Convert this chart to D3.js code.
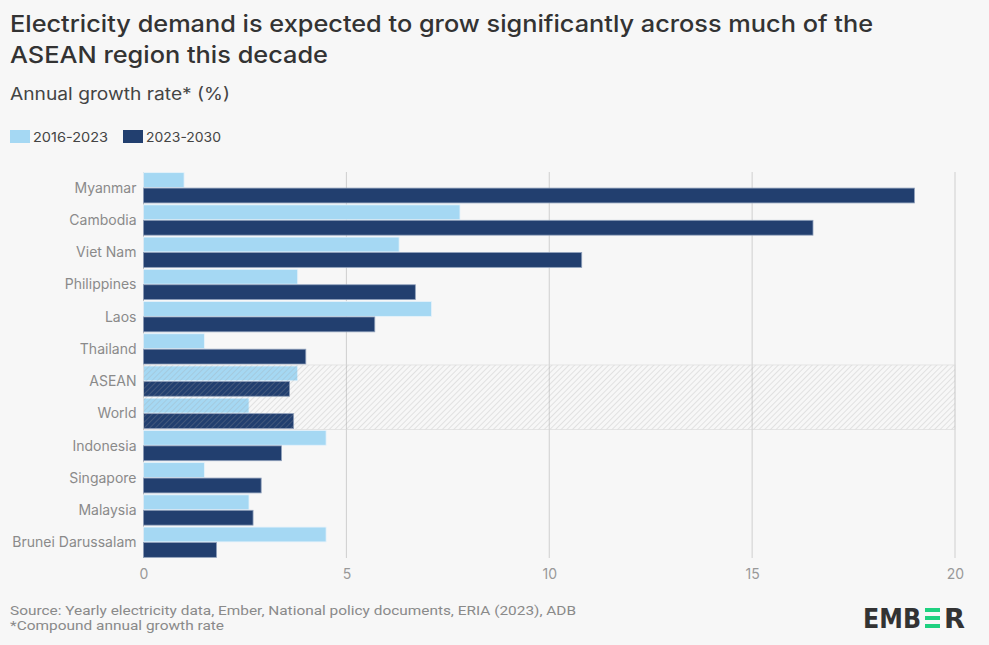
<!DOCTYPE html>
<html>
<head>
<meta charset="utf-8">
<script src="https://cdn.jsdelivr.net/npm/d3@7"></script>
<style>
body { margin: 0; background: #f7f7f7; }
svg { display: block; }
</style>
</head>
<body>
<div id="chart"></div>
<script>
var countries = ["Myanmar", "Cambodia", "Viet Nam", "Philippines", "Laos", "Thailand",
    "ASEAN", "World", "Indonesia", "Singapore", "Malaysia", "Brunei Darussalam"];
var growth1623 = [1.0, 7.8, 6.3, 3.8, 7.1, 1.5, 3.8, 2.6, 4.5, 1.5, 2.6, 4.5];
var growth2330 = [19.0, 16.5, 10.8, 6.7, 5.7, 4.0, 3.6, 3.7, 3.4, 2.9, 2.7, 1.8];
var xTicks = [0, 5, 10, 15, 20];
var highlighted = ["ASEAN", "World"];
var seriesNames = ["2016-2023", "2023-2030"];
var seriesColors = ["#a5d8f3", "#223f6f"];

var width = 989, height = 645;
var svg = d3.select("#chart").append("svg")
    .attr("width", width)
    .attr("height", height)
    .style("font-family", "Inter, 'Noto Sans', sans-serif");

svg.append("rect").attr("width", width).attr("height", height).attr("fill", "#f7f7f7");

// hatch pattern
var defs = svg.append("defs");
var pat = defs.append("pattern")
    .attr("id", "hatch")
    .attr("patternUnits", "userSpaceOnUse")
    .attr("width", 4).attr("height", 4)
    .attr("patternTransform", "rotate(45)");
pat.append("line").attr("x1", 0).attr("y1", 0).attr("x2", 0).attr("y2", 4)
    .attr("stroke", "#a0a0a0").attr("stroke-width", 1).attr("opacity", 0.5);

// titles
svg.append("text").attr("x", 10).attr("y", 32)
    .text("Electricity demand is expected to grow significantly across much of the")
    .attr("font-size", 23.5).attr("font-weight", 500).attr("fill", "#333")
    .attr("textLength", 863).attr("lengthAdjust", "spacingAndGlyphs");
svg.append("text").attr("x", 10).attr("y", 63)
    .text("ASEAN region this decade")
    .attr("font-size", 23.5).attr("font-weight", 500).attr("fill", "#333")
    .attr("textLength", 318).attr("lengthAdjust", "spacingAndGlyphs");
svg.append("text").attr("x", 10).attr("y", 100)
    .text("Annual growth rate* (%)")
    .attr("font-size", 17).attr("fill", "#444")
    .attr("textLength", 220).attr("lengthAdjust", "spacingAndGlyphs");

// legend
var legend = svg.append("g").attr("transform", "translate(10,130)");
var legX = [0, 113];
seriesNames.forEach(function (s, i) {
    legend.append("rect").attr("x", legX[i]).attr("y", 0).attr("width", 20).attr("height", 13)
        .attr("fill", seriesColors[i]);
    legend.append("text").attr("x", legX[i] + 23).attr("y", 11.5).text(s)
        .attr("font-size", 13.5).attr("fill", "#444")
        .attr("textLength", 75).attr("lengthAdjust", "spacingAndGlyphs");
});

var margin = {left: 143.5, right: 34, top: 172, bottom: 87};
var plotW = width - margin.left - margin.right;
var plotH = height - margin.top - margin.bottom;

var xScale = d3.scaleLinear().domain([0, 20]).range([margin.left, margin.left + plotW]);
var yScale = d3.scaleBand().domain(countries).range([margin.top, margin.top + plotH]).paddingInner(0.06).paddingOuter(0.02);
var sub = d3.scaleBand().domain([0, 1]).range([0, yScale.bandwidth()]).paddingInner(0.04);

// gridlines
var grid = svg.append("g");
grid.selectAll("line").data(xTicks).enter().append("line")
    .attr("x1", function (d) { return xScale(d); })
    .attr("x2", function (d) { return xScale(d); })
    .attr("y1", margin.top)
    .attr("y2", margin.top + plotH)
    .attr("stroke", function (d) { return d === 0 ? "#bdbdbd" : "#cfcfcf"; })
    .attr("stroke-width", 1);

// bars
var rows = svg.append("g").selectAll("g").data(countries).enter().append("g")
    .attr("transform", function (d) { return "translate(0," + yScale(d) + ")"; });
rows.append("rect")
    .attr("x", xScale(0))
    .attr("y", sub(0))
    .attr("width", function (d, i) { return xScale(growth1623[i]) - xScale(0); })
    .attr("height", sub.bandwidth())
    .attr("fill", seriesColors[0])
    .attr("stroke", "#e6f2fa").attr("stroke-width", 0.8);
rows.append("rect")
    .attr("x", xScale(0))
    .attr("y", sub(1))
    .attr("width", function (d, i) { return xScale(growth2330[i]) - xScale(0); })
    .attr("height", sub.bandwidth())
    .attr("fill", seriesColors[1])
    .attr("stroke", "#8fa0bb").attr("stroke-width", 0.8);

// highlight band
var hTop = yScale(highlighted[0]) - 1;
var hBot = yScale(highlighted[1]) + yScale.bandwidth() + 1;
svg.append("rect")
    .attr("x", xScale(0)).attr("y", hTop)
    .attr("width", xScale(20) - xScale(0)).attr("height", hBot - hTop)
    .attr("fill", "url(#hatch)").attr("stroke", "#d8d8d8").attr("stroke-width", 0.6);

// category labels
svg.append("g").selectAll("text").data(countries).enter().append("text")
    .attr("x", margin.left - 7)
    .attr("y", function (d) { return yScale(d) + yScale.bandwidth() / 2 + 5; })
    .attr("text-anchor", "end")
    .attr("font-size", 14)
    .attr("fill", "#8a8a8a")
    .text(function (d) { return d; });

// x axis
var xAxis = d3.axisBottom(xScale).tickValues(xTicks).tickSize(0).tickPadding(10);
var ax = svg.append("g").attr("transform", "translate(0," + (margin.top + plotH + 1) + ")").call(xAxis);
ax.select(".domain").remove();
ax.selectAll("text").attr("font-size", 14).attr("fill", "#999").style("font-family", "Inter, 'Noto Sans', sans-serif");

// footer
svg.append("text").attr("x", 10).attr("y", 615)
    .text("Source: Yearly electricity data, Ember, National policy documents, ERIA (2023), ADB")
    .attr("font-size", 13).attr("fill", "#8a8a8a").style("font-family", "'Roboto', sans-serif")
    .attr("textLength", 566).attr("lengthAdjust", "spacingAndGlyphs");
svg.append("text").attr("x", 10).attr("y", 630)
    .text("*Compound annual growth rate")
    .attr("font-size", 13).attr("fill", "#8a8a8a").style("font-family", "'Roboto', sans-serif")
    .attr("textLength", 214).attr("lengthAdjust", "spacingAndGlyphs");

// logo
var logo = svg.append("g").attr("transform", "translate(863,628)");
logo.append("text").attr("x", 0).attr("y", 0).text("EMB")
    .attr("font-size", 26).attr("font-weight", 800).attr("fill", "#333")
    .style("font-family", "'DejaVu Sans', sans-serif")
    .attr("textLength", 58).attr("lengthAdjust", "spacingAndGlyphs");
var eBars = [0, 8, 16];
logo.selectAll("rect.e").data(eBars).enter().append("rect")
    .attr("x", 62).attr("y", function (d) { return -20 + d; })
    .attr("width", 15).attr("height", 4).attr("fill", "#1fd180");
logo.append("text").attr("x", 81).attr("y", 0).text("R")
    .attr("font-size", 26).attr("font-weight", 800).attr("fill", "#333")
    .style("font-family", "'DejaVu Sans', sans-serif")
    .attr("textLength", 21).attr("lengthAdjust", "spacingAndGlyphs");
</script>
</body>
</html>
